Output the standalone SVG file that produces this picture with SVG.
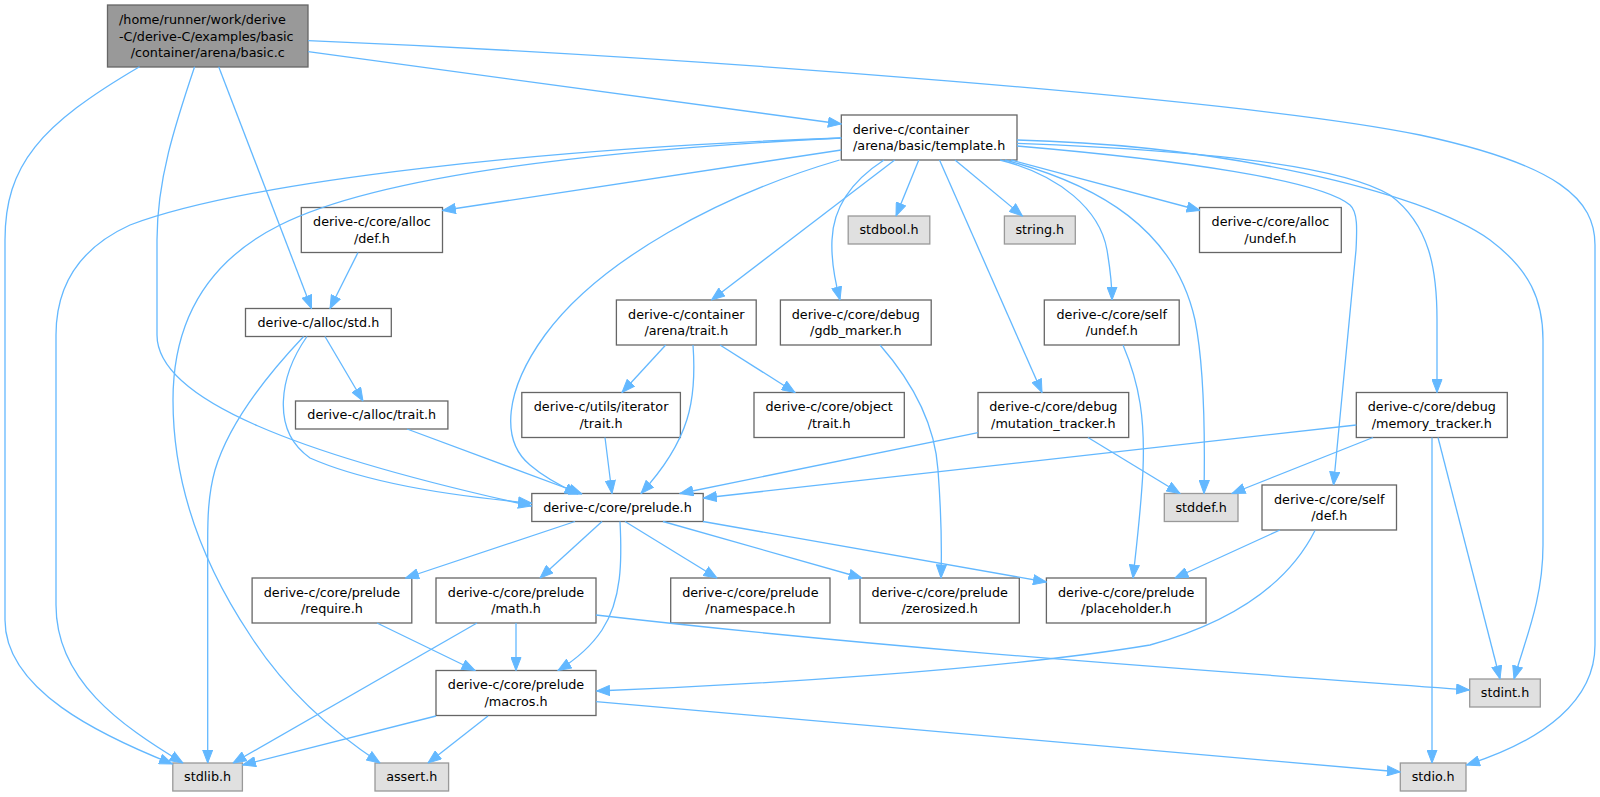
<svg xmlns="http://www.w3.org/2000/svg" width="1600" height="797" viewBox="0 0 1600 797">
<style>
.n rect{fill:#ffffff;stroke:#666666;stroke-width:1.3}
.x rect{fill:#e0e0e0;stroke:#999999;stroke-width:1.3}
.r rect{fill:#999999;stroke:#666666;stroke-width:1.3}
text{font-family:"DejaVu Sans","Liberation Sans",sans-serif;font-size:12.75px;fill:#000000}
.c{text-anchor:middle}
#edges path{fill:none;stroke:#63b8ff;stroke-width:1.3;marker-end:url(#arr)}
</style>
<defs>
<marker id="arr" markerUnits="userSpaceOnUse" markerWidth="14" markerHeight="11" viewBox="0 0 14 11" refX="13.5" refY="5.5" orient="auto">
<path d="M0.5,0.5 L13.5,5.5 L0.5,10.5 Z" fill="#63b8ff" stroke="#63b8ff" stroke-width="1"/>
</marker>
</defs>
<rect x="0" y="0" width="1600" height="797" fill="#ffffff"/>

<g id="node-root" class="r"><rect x="107.5" y="5" width="200.5" height="62"/>
<text x="119" y="24">/home/runner/work/derive</text><text x="119" y="40.7">-C/derive-C/examples/basic</text><text class="c" x="207.75" y="57.3">/container/arena/basic.c</text></g>

<g id="node-template" class="n"><rect x="841.3" y="115" width="175.7" height="45"/>
<text x="852.7" y="133.5">derive-c/container</text><text class="c" x="929.15" y="150.2">/arena/basic/template.h</text></g>

<g id="node-alloc-def" class="n"><rect x="301.3" y="207.5" width="141.2" height="45"/>
<text class="c" x="371.9" y="226">derive-c/core/alloc</text><text class="c" x="371.9" y="242.7">/def.h</text></g>

<g id="node-stdbool" class="x"><rect x="848.2" y="216" width="81.6" height="28"/>
<text class="c" x="889" y="234.3">stdbool.h</text></g>

<g id="node-string" class="x"><rect x="1004.4" y="216" width="70.9" height="28"/>
<text class="c" x="1039.85" y="234.3">string.h</text></g>

<g id="node-alloc-undef" class="n"><rect x="1199.5" y="207.5" width="141.8" height="45"/>
<text class="c" x="1270.4" y="226">derive-c/core/alloc</text><text class="c" x="1270.4" y="242.7">/undef.h</text></g>

<g id="node-alloc-std" class="n"><rect x="245.5" y="308.5" width="145.8" height="28"/>
<text class="c" x="318.4" y="326.8">derive-c/alloc/std.h</text></g>

<g id="node-arena-trait" class="n"><rect x="616.4" y="300" width="139.8" height="45"/>
<text class="c" x="686.3" y="318.5">derive-c/container</text><text class="c" x="686.3" y="335.2">/arena/trait.h</text></g>

<g id="node-gdb-marker" class="n"><rect x="780.4" y="300" width="150.8" height="45"/>
<text class="c" x="855.8" y="318.5">derive-c/core/debug</text><text class="c" x="855.8" y="335.2">/gdb_marker.h</text></g>

<g id="node-self-undef" class="n"><rect x="1044.3" y="300" width="134.9" height="45"/>
<text class="c" x="1111.75" y="318.5">derive-c/core/self</text><text class="c" x="1111.75" y="335.2">/undef.h</text></g>

<g id="node-alloc-trait" class="n"><rect x="295.5" y="401" width="152.4" height="28"/>
<text class="c" x="371.7" y="419.3">derive-c/alloc/trait.h</text></g>

<g id="node-iterator-trait" class="n"><rect x="521.8" y="392.5" width="158.6" height="45"/>
<text class="c" x="601.1" y="411">derive-c/utils/iterator</text><text class="c" x="601.1" y="427.7">/trait.h</text></g>

<g id="node-object-trait" class="n"><rect x="754" y="392.5" width="150.3" height="45"/>
<text class="c" x="829.15" y="411">derive-c/core/object</text><text class="c" x="829.15" y="427.7">/trait.h</text></g>

<g id="node-mutation-tracker" class="n"><rect x="978" y="392.5" width="150.7" height="45"/>
<text class="c" x="1053.35" y="411">derive-c/core/debug</text><text class="c" x="1053.35" y="427.7">/mutation_tracker.h</text></g>

<g id="node-memory-tracker" class="n"><rect x="1356.3" y="392.5" width="151" height="45"/>
<text class="c" x="1431.8" y="411">derive-c/core/debug</text><text class="c" x="1431.8" y="427.7">/memory_tracker.h</text></g>

<g id="node-prelude" class="n"><rect x="531.8" y="493.5" width="171.4" height="28"/>
<text class="c" x="617.5" y="511.8">derive-c/core/prelude.h</text></g>

<g id="node-stddef" class="x"><rect x="1164.3" y="493.5" width="73.7" height="28"/>
<text class="c" x="1201.15" y="511.8">stddef.h</text></g>

<g id="node-self-def" class="n"><rect x="1262" y="485" width="134.5" height="45"/>
<text class="c" x="1329.25" y="503.5">derive-c/core/self</text><text class="c" x="1329.25" y="520.2">/def.h</text></g>

<g id="node-require" class="n"><rect x="252.1" y="578" width="159.7" height="45"/>
<text class="c" x="331.95" y="596.5">derive-c/core/prelude</text><text class="c" x="331.95" y="613.2">/require.h</text></g>

<g id="node-math" class="n"><rect x="436" y="578" width="160" height="45"/>
<text class="c" x="516" y="596.5">derive-c/core/prelude</text><text class="c" x="516" y="613.2">/math.h</text></g>

<g id="node-namespace" class="n"><rect x="670.7" y="578" width="159.3" height="45"/>
<text class="c" x="750.35" y="596.5">derive-c/core/prelude</text><text class="c" x="750.35" y="613.2">/namespace.h</text></g>

<g id="node-zerosized" class="n"><rect x="860" y="578" width="159.3" height="45"/>
<text class="c" x="939.65" y="596.5">derive-c/core/prelude</text><text class="c" x="939.65" y="613.2">/zerosized.h</text></g>

<g id="node-placeholder" class="n"><rect x="1046.4" y="578" width="159.6" height="45"/>
<text class="c" x="1126.2" y="596.5">derive-c/core/prelude</text><text class="c" x="1126.2" y="613.2">/placeholder.h</text></g>

<g id="node-macros" class="n"><rect x="436" y="670.5" width="160" height="45"/>
<text class="c" x="516" y="689">derive-c/core/prelude</text><text class="c" x="516" y="705.7">/macros.h</text></g>

<g id="node-stdint" class="x"><rect x="1469.7" y="679" width="70.6" height="28"/>
<text class="c" x="1505" y="697.3">stdint.h</text></g>

<g id="node-stdlib" class="x"><rect x="172.8" y="763" width="69.6" height="28"/>
<text class="c" x="207.6" y="781.3">stdlib.h</text></g>

<g id="node-assert" class="x"><rect x="375" y="763" width="73.6" height="28"/>
<text class="c" x="411.8" y="781.3">assert.h</text></g>

<g id="node-stdio" class="x"><rect x="1400.3" y="763" width="65.7" height="28"/>
<text class="c" x="1433.15" y="781.3">stdio.h</text></g>

<g id="edges">
<path d="M139.5,66.7 C40,125 5,165 5,240 L5,620 C5,690 100,735 172.5,764"/>
<path d="M194.6,66.7 C175,125 157,180 157,240 L157,335 C157,400 300,455 531.5,506"/>
<path d="M218.7,66.7 L311.5,308.5"/>
<path d="M308.2,51.7 L841.3,124"/>
<path d="M308.2,40.7 C700,57 1250,100 1420,135 C1560,165 1595,200 1595,245 L1595,645 C1595,700 1545,740 1466.5,765"/>
<path d="M841.3,138 C550,148 250,180 130,225 C75,250 56,290 56,335 L56,605 C56,680 120,725 183,763"/>
<path d="M841.3,138 C600,150 380,175 280,225 C200,265 173,330 173,400 C173,480 200,560 250,635 C285,690 330,730 380,763"/>
<path d="M841.3,150 L442.5,210.5"/>
<path d="M839.6,160 C720,195 600,260 545,335 C505,390 500,440 530,465 C545,478 565,488 578,494"/>
<path d="M894.7,160 L711.5,300"/>
<path d="M884,160 C850,182 833,210 832,240 C831,262 836,285 840,300"/>
<path d="M918.8,160 L896,216"/>
<path d="M939.5,160 L1042,392.5"/>
<path d="M955,160 L1022.5,216"/>
<path d="M1005,160 C1100,185 1175,230 1195,320 C1205,370 1205,440 1204,493.5"/>
<path d="M1000,160 C1060,175 1100,210 1107,250 C1110,268 1112,285 1112,300"/>
<path d="M1011,160 L1200,210.5"/>
<path d="M1017,146 C1180,160 1320,180 1350,205 C1358,212 1357,230 1356,250 L1333.5,485"/>
<path d="M1017,143.3 C1200,150 1340,165 1390,195 C1430,225 1437,270 1437,320 L1437,392.5"/>
<path d="M1017,140 C1220,145 1420,190 1490,240 C1530,270 1543,300 1543,340 L1543,545 C1543,600 1525,640 1514,679"/>
<path d="M358,252.5 L330,308.5"/>
<path d="M303.6,336.5 C270,372 230,420 215,470 C208,495 207.7,520 207.7,540 L207.7,763"/>
<path d="M325,336.5 L363,401"/>
<path d="M307,336.5 C280,375 270,430 310,458 C360,480 440,495 531.5,503"/>
<path d="M407,429 L582,494"/>
<path d="M665.7,345 L622,392.5"/>
<path d="M720,345 L795,392.5"/>
<path d="M693,345 C697,400 690,440 641,493.5"/>
<path d="M605,437.5 L612,493.5"/>
<path d="M880,345 C915,385 935,425 938,470 C941,510 942,545 941,578"/>
<path d="M1123,345 C1140,385 1145,420 1143,470 C1141,510 1136,550 1133,578"/>
<path d="M978,432.7 L680,493.5"/>
<path d="M1088,437.5 L1180,493.5"/>
<path d="M1356.3,425 L703.5,498"/>
<path d="M1373,437.5 L1232,493.5"/>
<path d="M1438,437.5 L1500,679"/>
<path d="M1432,437.5 L1432,763"/>
<path d="M1280,530 L1175,578"/>
<path d="M1315,530.5 C1290,580 1240,620 1150,645 C1000,670 750,685 596.5,691"/>
<path d="M575,521.5 L405.5,578"/>
<path d="M602,521.5 L540,578"/>
<path d="M620,521.5 C622,560 622,600 602,630 C590,648 575,660 558,670.5"/>
<path d="M625,521.5 L717,578"/>
<path d="M663,521.5 L862,578"/>
<path d="M703,521.5 L1046.4,582"/>
<path d="M377,623 L475,670.5"/>
<path d="M516,623 L516,670.5"/>
<path d="M477,623 L233,763"/>
<path d="M596,615 C900,650 1200,670 1469.5,690"/>
<path d="M436,716 L242.5,765"/>
<path d="M488,716 L428,763"/>
<path d="M596,701.7 L1400.3,772"/>
</g>
</svg>
